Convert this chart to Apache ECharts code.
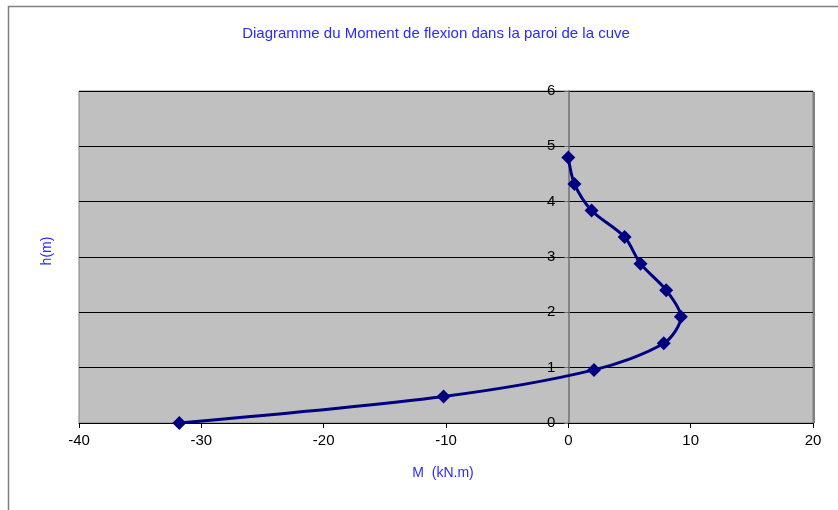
<!DOCTYPE html>
<html>
<head>
<meta charset="utf-8">
<script src="https://cdn.jsdelivr.net/npm/echarts@6/dist/echarts.min.js"></script>
<style>
  html, body { margin: 0; padding: 0; background: #ffffff; }
  #chart { width: 838px; height: 510px; }
</style>
</head>
<body>
<div id="chart"></div>
<script>
// Bending moment along the tank wall height
const heights = [0, 0.48, 0.96, 1.44, 1.92, 2.4, 2.88, 3.36, 3.84, 4.32, 4.8];
const moments = [-31.8, -10.2, 2.1, 7.8, 9.2, 8.0, 5.9, 4.6, 1.9, 0.5, 0];

const titleText = 'Diagramme du Moment de flexion dans la paroi de la cuve';
const xName = 'M  (kN.m)';
const yName = 'h(m)';

const points = moments.map((m, i) => [m, heights[i]]);

const chart = echarts.init(document.getElementById('chart'), null, { renderer: 'canvas' });

chart.setOption({
  animation: false,
  backgroundColor: '#ffffff',
  title: {
    text: titleText,
    left: 431,
    top: 21,
    textAlign: 'center',
    textStyle: {
      fontFamily: 'Liberation Sans, Arial, sans-serif',
      fontSize: 15,
      fontWeight: 'normal',
      color: '#2a2aff'
    }
  },
  grid: {
    left: 79,
    top: 91,
    width: 734,
    height: 332,
    show: true,
    backgroundColor: '#c0c0c0',
    borderColor: '#808080',
    borderWidth: 1
  },
  xAxis: {
    type: 'value',
    min: -40,
    max: 20,
    interval: 10,
    axisLine: { show: true, onZero: false, lineStyle: { color: '#000000', width: 1 } },
    axisTick: { show: true, length: 5, lineStyle: { color: '#000000' } },
    axisLabel: {
      margin: 10,
      color: '#000000',
      fontFamily: 'Liberation Sans, Arial, sans-serif',
      fontSize: 15
    },
    splitLine: { show: false }
  },
  yAxis: {
    type: 'value',
    min: 0,
    max: 6,
    interval: 1,
    // the vertical axis stands at M = 0 (40 units of 734/60 px from the left edge)
    offset: -40 * 734 / 60,
    axisLine: { show: true, onZero: false, lineStyle: { color: '#707070', width: 1.5 } },
    axisTick: { show: true, length: 4, lineStyle: { color: '#707070' } },
    axisLabel: {
      margin: 13,
      color: '#000000',
      fontFamily: 'Liberation Sans, Arial, sans-serif',
      fontSize: 15
    },
    splitLine: { show: true, lineStyle: { color: '#000000', width: 1 } }
  },
  graphic: [
    {
      type: 'rect',
      silent: true,
      z: -1,
      shape: { x: 8.5, y: 6.5, width: 840, height: 520 },
      style: { fill: 'none', stroke: '#808080', lineWidth: 1.5 }
    },
    {
      type: 'line',
      silent: true,
      shape: { x1: 814, y1: 92, x2: 814, y2: 423 },
      style: { stroke: '#808080', lineWidth: 2 }
    },
    {
      type: 'text',
      x: 443,
      y: 473,
      style: {
        text: xName,
        fill: '#2a2aff',
        font: '14px "Liberation Sans", Arial, sans-serif',
        textAlign: 'center',
        textVerticalAlign: 'middle'
      }
    },
    {
      type: 'text',
      x: 47,
      y: 251,
      rotation: Math.PI / 2,
      style: {
        text: yName,
        fill: '#2a2aff',
        font: '14px "Liberation Sans", Arial, sans-serif',
        textAlign: 'center',
        textVerticalAlign: 'middle'
      }
    }
  ],
  series: [
    {
      type: 'line',
      data: points,
      smooth: 0.3,
      symbol: 'diamond',
      symbolSize: 14,
      itemStyle: { color: '#000080' },
      lineStyle: { color: '#000080', width: 3 },
      z: 3
    }
  ]
});
</script>
</body>
</html>
